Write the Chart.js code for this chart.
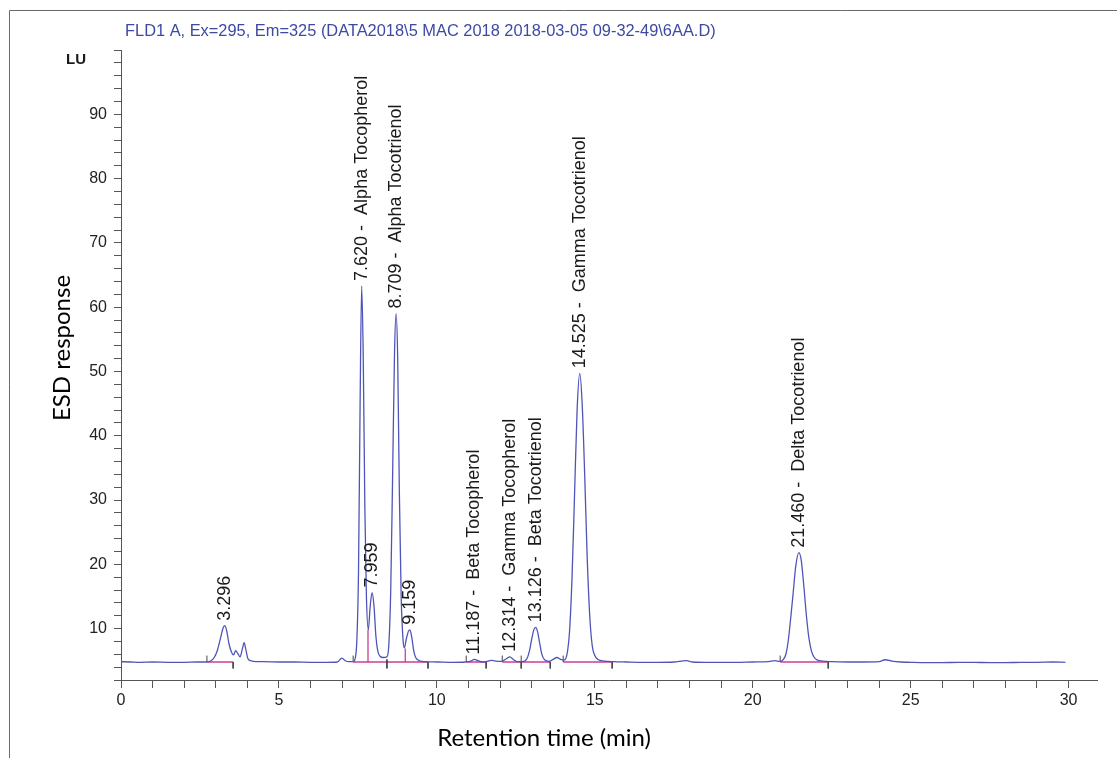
<!DOCTYPE html>
<html>
<head>
<meta charset="utf-8">
<script src="https://cdn.jsdelivr.net/npm/chart.js@4.4.1/dist/chart.umd.min.js"></script>
<style>
html,body{margin:0;padding:0;background:#ffffff;}
canvas{display:block;}
</style>
</head>
<body>
<canvas id="c" width="1117" height="758"></canvas>
<script>
// ---------- DATA ----------
const chartTitle = 'FLD1 A, Ex=295, Em=325 (DATA2018\\5 MAC 2018 2018-03-05 09-32-49\\6AA.D)';
const xAxisTitle = 'Retention time (min)';
const yAxisTitle = 'ESD response';
const yUnit = 'LU';

const traceTimes = [
  0.0, 0.3, 0.6, 1.0, 1.5, 2.0, 2.4, 2.7, 2.85, 2.95, 3.05, 3.15, 3.22, 3.28, 3.34, 3.42, 3.5, 3.56, 3.63, 3.7,
  3.77, 3.84, 3.9, 3.95, 4.02, 4.15, 4.5, 5.0, 5.5, 6.0, 6.5, 6.85, 6.99, 7.1, 7.2, 7.35, 7.42, 7.47, 7.52, 7.57,
  7.62, 7.67, 7.72, 7.77, 7.83, 7.89, 7.95, 8.01, 8.07, 8.13, 8.2, 8.3, 8.42, 8.48, 8.54, 8.6, 8.66, 8.71, 8.76, 8.81,
  8.87, 8.93, 8.97, 9.03, 9.1, 9.15, 9.21, 9.27, 9.33, 9.45, 9.6, 10.0, 10.5, 10.9, 11.05, 11.19, 11.3, 11.45, 11.6, 11.72,
  11.85, 12.05, 12.2, 12.31, 12.42, 12.55, 12.7, 12.85, 12.93, 13.0, 13.07, 13.13, 13.19, 13.26, 13.33, 13.42, 13.55, 13.68, 13.8, 13.92,
  14.02, 14.12, 14.2, 14.28, 14.36, 14.44, 14.525, 14.6, 14.68, 14.76, 14.84, 14.92, 15.0, 15.1, 15.3, 15.6, 16.0, 16.5, 17.0, 17.5,
  17.9, 18.1, 18.5, 19.0, 19.5, 20.0, 20.5, 20.7, 20.85, 20.95, 21.05, 21.13, 21.2, 21.28, 21.36, 21.46, 21.54, 21.62, 21.7, 21.78,
  21.86, 21.95, 22.05, 22.2, 22.5, 23.0, 23.5, 24.0, 24.2, 24.4, 24.7, 25.0, 25.5, 26.0, 26.5, 27.0, 27.5, 28.0, 28.5, 29.0,
  29.5, 29.9
];
const traceValues = [
  4.85, 4.8, 4.75, 4.8, 4.75, 4.75, 4.8, 4.8, 5.0, 5.5, 6.6, 8.5, 9.9, 10.45, 9.8, 7.6, 6.3, 5.9, 6.55, 6.1,
  5.6, 6.8, 7.8, 6.8, 5.3, 4.95, 4.85, 4.8, 4.8, 4.75, 4.75, 4.8, 5.4, 5.0, 4.85, 4.85, 5.5, 8.5, 19, 45,
  63.3, 52, 29, 15, 9.8, 13.5, 15.6, 13.5, 8.8, 6.5, 5.7, 5.5, 5.6, 7.5, 16, 34, 53, 59.0, 52, 32,
  15, 8.2, 7.0, 8.3, 9.6, 9.8, 8.5, 6.5, 5.5, 5.0, 4.85, 4.8, 4.75, 4.8, 4.9, 5.2, 5.0, 4.8, 4.9, 5.05,
  4.95, 4.9, 5.3, 5.6, 5.2, 4.85, 4.85, 5.3, 6.5, 8.3, 9.8, 10.2, 9.5, 7.6, 5.9, 5.1, 4.9, 5.2, 5.5, 5.2,
  5.1, 6.0, 9.5, 18, 31, 44, 49.7, 45, 34, 21, 12, 7.3, 5.8, 5.2, 4.95, 4.85, 4.8, 4.75, 4.75, 4.8,
  5.0, 4.8, 4.75, 4.75, 4.75, 4.8, 4.85, 5.0, 4.9, 5.1, 6.0, 8.3, 11.5, 15.5, 19.6, 21.8, 20.5, 16.5, 12, 8.5,
  6.5, 5.5, 5.1, 4.95, 4.85, 4.8, 4.8, 4.85, 5.15, 4.95, 4.8, 4.75, 4.7, 4.7, 4.75, 4.75, 4.7, 4.7, 4.75, 4.75,
  4.8, 4.75
];

const peakTimes  = [3.296, 7.620, 7.959, 8.709, 9.159, 11.187, 12.314, 13.126, 14.525, 21.460];
const peakValues = [10.45, 63.3, 15.6, 59.0, 9.8, 5.2, 5.6, 10.2, 49.7, 21.8];
const peakNames  = ['', 'Alpha Tocopherol', '', 'Alpha Tocotrienol', '', 'Beta Tocopherol',
                    'Gamma Tocopherol', 'Beta Tocotrienol', 'Gamma Tocotrienol', 'Delta Tocotrienol'];

const integStarts = [2.72, 7.35, 10.93, 12.07, 12.67, 14.0, 20.87];
const integEnds   = [3.55, 9.72, 11.56, 12.67, 13.59, 15.55, 22.39];
const integLevel  = 4.8;
const splitTimes  = [7.82, 9.0];
const splitTops   = [9.8, 6.9];
const valleyMarks = [8.42];

const xTickLabels = [0, 5, 10, 15, 20, 25, 30];
const yTickLabels = [10, 20, 30, 40, 50, 60, 70, 80, 90];

// ---------- build datasets ----------
const tracePts = traceTimes.map((t, i) => ({x: t, y: traceValues[i]}));
const basePts = [];
integStarts.forEach((s, i) => { basePts.push({x: s, y: integLevel}, {x: integEnds[i], y: integLevel}, {x: integEnds[i], y: null}); });
splitTimes.forEach((s, i) => { basePts.push({x: s, y: integLevel}, {x: s, y: splitTops[i]}, {x: s, y: null}); });
const MARK = 1.0;
const markPts = [];
integStarts.forEach(s => { markPts.push({x: s, y: integLevel}, {x: s, y: integLevel + MARK}, {x: s, y: null}); });
integEnds.forEach(e => { markPts.push({x: e, y: integLevel}, {x: e, y: integLevel - MARK}, {x: e, y: null}); });
valleyMarks.forEach(v => { markPts.push({x: v, y: integLevel + 0.4}, {x: v, y: integLevel - MARK}, {x: v, y: null}); });

const TICK_FONT = "'Liberation Sans Narrow', 'Liberation Sans', Arial, sans-serif";
const LABEL_FONT = "'Liberation Sans', Arial, sans-serif";

const textPlugin = {
  id: 'texts',
  beforeDraw(chart) {
    const ctx = chart.ctx;
    ctx.save();
    ctx.strokeStyle = '#6a6a6a';
    ctx.lineWidth = 1;
    ctx.beginPath();
    ctx.moveTo(9.5, chart.height);
    ctx.lineTo(9.5, 10.5);
    ctx.lineTo(chart.width, 10.5);
    ctx.stroke();
    ctx.restore();
  },
  afterDraw(chart) {
    const ctx = chart.ctx;
    const xs = chart.scales.x, ys = chart.scales.y, ca = chart.chartArea;
    ctx.save();
    // title
    ctx.fillStyle = '#3d4aa5';
    ctx.font = "16.4px " + LABEL_FONT;
    ctx.textAlign = 'left';
    ctx.textBaseline = 'middle';
    ctx.fillText(chartTitle, ca.left + 4, 31);
    // unit
    ctx.fillStyle = '#1a1a1a';
    ctx.font = "bold 15px " + TICK_FONT;
    ctx.textAlign = 'center';
    ctx.fillText(yUnit, ca.left - 45, ys.getPixelForValue(98.4));
    // peak labels
    ctx.fillStyle = '#1a1a1a';
    ctx.font = "18px " + LABEL_FONT;
    ctx.textAlign = 'left';
    ctx.textBaseline = 'middle';
    peakTimes.forEach((t, i) => {
      const txt = t.toFixed(3) + (peakNames[i] ? ' -  ' + peakNames[i] : '');
      const px = xs.getPixelForValue(t);
      const py = ys.getPixelForValue(peakValues[i]);
      ctx.save();
      ctx.translate(px, py - 5);
      ctx.rotate(-Math.PI / 2);
      ctx.fillText(txt, 0, 0);
      ctx.restore();
    });
    // axis titles
    ctx.fillStyle = '#000000';
    ctx.font = "24px Lato, 'Open Sans', sans-serif";
    ctx.textAlign = 'center';
    ctx.textBaseline = 'middle';
    ctx.fillText(xAxisTitle, ca.left + 423, ca.bottom + 58);
    ctx.save();
    ctx.translate(ca.left - 59, ca.top + 298);
    ctx.rotate(-Math.PI / 2);
    ctx.fillText(yAxisTitle, 0, 0);
    ctx.restore();
    ctx.restore();
  }
};

new Chart(document.getElementById('c'), {
  type: 'line',
  data: {
    datasets: [
      { data: tracePts, borderColor: '#4f55b8', borderWidth: 1.3, pointRadius: 0, fill: false,
        cubicInterpolationMode: 'monotone', order: 0 },
      { data: basePts, borderColor: '#d03c96', borderWidth: 1.3, pointRadius: 0, fill: false,
        tension: 0, spanGaps: false, order: 2 },
      { data: markPts, borderColor: '#444444', borderWidth: 1, pointRadius: 0, fill: false,
        tension: 0, spanGaps: false, order: 1 }
    ]
  },
  options: {
    responsive: false,
    animation: false,
    events: [],
    layout: { padding: { top: 50, right: 20, left: 0, bottom: 0 } },
    plugins: { legend: { display: false }, tooltip: { enabled: false }, title: { display: false } },
    scales: {
      x: {
        type: 'linear', min: 0, max: 30.9,
        border: { display: true, color: '#555555', width: 1 },
        grid: { drawOnChartArea: false, drawTicks: true, tickLength: 8, color: '#555555' },
        ticks: {
          stepSize: 1, includeBounds: false, autoSkip: false, maxRotation: 0, padding: 3,
          color: '#222222', font: { family: TICK_FONT, size: 16 },
          callback: v => xTickLabels.includes(v) ? String(v) : ''
        },
        afterFit: s => { s.height = 78; }
      },
      y: {
        type: 'linear', min: 2, max: 100,
        border: { display: true, color: '#555555', width: 1 },
        grid: { drawOnChartArea: false, drawTicks: true, tickLength: 7, color: '#555555' },
        ticks: {
          stepSize: 2, includeBounds: false, autoSkip: false, padding: 7,
          color: '#222222', font: { family: TICK_FONT, size: 16 },
          callback: v => yTickLabels.includes(v) ? String(v) : ''
        },
        afterFit: s => { s.width = 121; }
      }
    }
  },
  plugins: [textPlugin]
});
</script>
</body>
</html>
